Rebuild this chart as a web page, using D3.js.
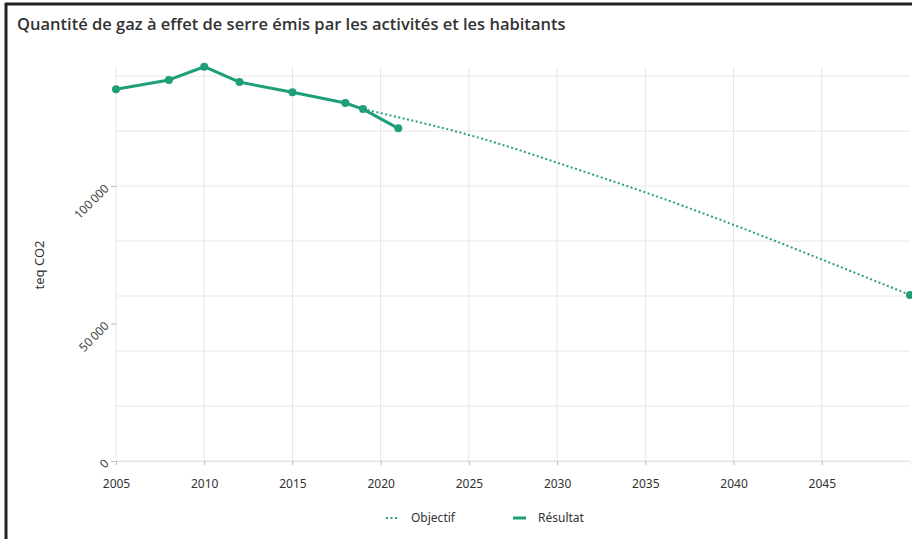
<!DOCTYPE html>
<html>
<head>
<meta charset="utf-8">
<script src="https://cdn.jsdelivr.net/npm/d3@7"></script>
<style>
  html, body { margin: 0; padding: 0; background: #fff; }
  svg { display: block; font-family: "Noto Sans", "Open Sans", sans-serif; }
</style>
</head>
<body>
<svg id="chart" width="912" height="539"></svg>
<script>
const title = "Quantité de gaz à effet de serre émis par les activités et les habitants";
const yTitle = "teq CO2";

// Résultat (measured)
const resultYears = [2005, 2008, 2010, 2012, 2015, 2018, 2019, 2021];
const resultValues = [135200, 138600, 143400, 137800, 134100, 130200, 128000, 121000];

// Objectif (trajectory)
const goalYears = [2019, 2025, 2030, 2035, 2040, 2045, 2050];
const goalValues = [128000, 118600, 108500, 97700, 85900, 73300, 60400];

const xTicks = [2005, 2010, 2015, 2020, 2025, 2030, 2035, 2040, 2045];
const yTicks = [0, 50000, 100000];
const yGrid = [0, 20000, 40000, 60000, 80000, 100000, 120000, 140000];
const legendLabels = ["Objectif", "Résultat"];

const GREEN = "#1f9e7a";
const GRID = "#e6e6e6";
const TEXT = "#333";

const svg = d3.select("#chart");

// frame lines (left + top)
svg.append("line").attr("x1", 6).attr("x2", 6).attr("y1", 3).attr("y2", 539)
  .attr("stroke", "#222").attr("stroke-width", 3);
svg.append("line").attr("x1", 5).attr("x2", 912).attr("y1", 4).attr("y2", 4)
  .attr("stroke", "#222").attr("stroke-width", 3);

svg.append("text")
  .attr("x", 17).attr("y", 30)
  .attr("font-size", 16.5).attr("font-weight", 600).attr("fill", TEXT)
  .attr("font-family", "Open Sans, sans-serif")
  .text(title);

const x = d3.scaleLinear().domain([2005, 2050]).range([116, 910]);
const y = d3.scaleLinear().domain([0, 143300]).range([461, 67]);

const g = svg.append("g");

// grid
g.selectAll(".hgrid").data(yGrid).join("line")
  .attr("x1", x(2005)).attr("x2", x(2050))
  .attr("y1", d => y(d)).attr("y2", d => y(d))
  .attr("stroke", GRID).attr("stroke-width", 1);
g.selectAll(".vgrid").data(xTicks).join("line")
  .attr("x1", d => x(d)).attr("x2", d => x(d))
  .attr("y1", y.range()[1]).attr("y2", y(0))
  .attr("stroke", GRID).attr("stroke-width", 1);

// x axis
g.append("g")
  .attr("transform", `translate(0,${y(0)})`)
  .call(d3.axisBottom(x).tickValues(xTicks).tickFormat(d3.format("d")).tickSize(4).tickPadding(14))
  .call(ax => ax.select(".domain").attr("stroke", GRID))
  .call(ax => ax.selectAll("line").attr("stroke", "#bbb"))
  .call(ax => ax.selectAll("text").attr("fill", TEXT).attr("font-size", 12).attr("font-family", "Noto Sans, sans-serif"));

// y axis
const fmtY = v => d3.format(",")(v).replace(/,/g, "\u202f");
g.append("g")
  .attr("transform", `translate(${x(2005)},0)`)
  .call(d3.axisLeft(y).tickValues(yTicks).tickFormat(fmtY).tickSize(5).tickPadding(4))
  .call(ax => ax.select(".domain").remove())
  .call(ax => ax.selectAll("line").attr("stroke", "#bbb"))
  .call(ax => ax.selectAll("text")
    .attr("fill", "#444").attr("font-size", 12).attr("font-family", "Noto Sans, sans-serif")
    .attr("dy", "0.32em")
    .attr("transform", "rotate(-45,-9,0)"));

svg.append("text")
  .attr("transform", "translate(44,265) rotate(-90)")
  .attr("text-anchor", "middle")
  .attr("font-size", 13).attr("fill", TEXT)
  .text(yTitle);

// objectif dotted line
const goal = goalYears.map((yr, i) => ({ yr, v: goalValues[i] }));
const result = resultYears.map((yr, i) => ({ yr, v: resultValues[i] }));

const line = d3.line().x(d => x(d.yr)).y(d => y(d.v)).curve(d3.curveNatural);

g.append("path").datum(goal)
  .attr("d", line)
  .attr("fill", "none").attr("stroke", "#2a9e82").attr("stroke-width", 2)
  .attr("stroke-dasharray", "2,2.5");

g.append("circle")
  .attr("cx", x(goal[goal.length - 1].yr)).attr("cy", y(goal[goal.length - 1].v))
  .attr("r", 4).attr("fill", GREEN);

g.append("path").datum(result)
  .attr("d", d3.line().x(d => x(d.yr)).y(d => y(d.v)))
  .attr("fill", "none").attr("stroke", GREEN).attr("stroke-width", 3)
  .attr("stroke-linejoin", "round");

g.selectAll(".pt").data(result).join("circle")
  .attr("cx", d => x(d.yr)).attr("cy", d => y(d.v))
  .attr("r", 4).attr("fill", GREEN);

// legend
const leg = svg.append("g").attr("transform", "translate(0,518)");
leg.append("line").attr("x1", 386).attr("x2", 399).attr("y1", 0).attr("y2", 0)
  .attr("stroke", "#2a9e82").attr("stroke-width", 2).attr("stroke-dasharray", "2,2.5");
leg.append("text").attr("x", 411).attr("y", 0).attr("dy", "0.35em")
  .attr("font-size", 12).attr("fill", TEXT).text(legendLabels[0]);
leg.append("line").attr("x1", 513).attr("x2", 526).attr("y1", 0).attr("y2", 0)
  .attr("stroke", GREEN).attr("stroke-width", 3);
leg.append("text").attr("x", 538).attr("y", 0).attr("dy", "0.35em")
  .attr("font-size", 12).attr("fill", TEXT).text(legendLabels[1]);
</script>
</body>
</html>
